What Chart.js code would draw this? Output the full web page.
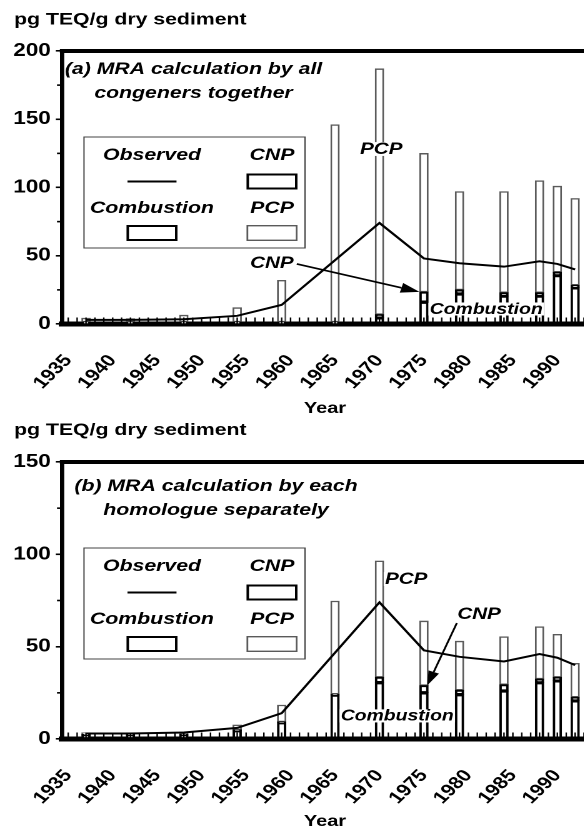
<!DOCTYPE html>
<html>
<head>
<meta charset="utf-8">
<script src="https://cdn.jsdelivr.net/npm/chart.js@4.4.1/dist/chart.umd.min.js"></script>
<style>
  html, body { margin: 0; padding: 0; background: #fff; overflow: hidden; width: 584px; height: 831px; }
  .stretch { position: absolute; left: 0; transform: scaleX(1.25); transform-origin: 0 0; }
  #wrapA { top: 0; }
  #wrapB { top: 415px; }
</style>
</head>
<body>
<div class="stretch" id="wrapA"><canvas id="chartA" width="490" height="415"></canvas></div>
<div class="stretch" id="wrapB"><canvas id="chartB" width="490" height="416"></canvas></div>
<script>
Chart.defaults.font.family = '"Liberation Sans", Arial, sans-serif';
Chart.defaults.color = '#000';

// sediment layers (year) and observed TEQ
const years = [1937, 1942, 1948, 1954, 1959, 1965, 1970, 1975, 1979, 1984, 1988, 1990, 1992];
const obsYears = [1937, 1942, 1948, 1954, 1959, 1970, 1975, 1979, 1984, 1988, 1990, 1992];
const observed = [3, 3, 3.5, 6, 14, 74, 48, 44.5, 42, 46, 44, 40];
const xTicks = [1935, 1940, 1945, 1950, 1955, 1960, 1965, 1970, 1975, 1980, 1985, 1990];

// (a) MRA by all congeners together
const combustionA = [1, 1, 1, 1, 1, 1, 4.5, 16, 22, 20.5, 20.5, 35.5, 26.5];
const cnpA = [0.5, 0.5, 0.5, 0.5, 0.5, 0.5, 2.5, 7.5, 3, 2.5, 2.5, 2.5, 2];
const pcpA = [2.8, 2.5, 5, 10.5, 30.5, 144.5, 180, 101.5, 72, 74, 82, 63, 63.5];
const yTicksA = [0, 50, 100, 150, 200];

// (b) MRA by each homologue separately
const combustionB = [2, 2, 2, 4.5, 8.8, 23.8, 30.5, 25, 24, 26, 30.5, 31.5, 20.7];
const cnpB = [0.5, 0.5, 0.5, 0.5, 0.5, 0.5, 3, 4, 2.5, 3.5, 2, 2, 2];
const pcpB = [0.9, 0.9, 1.3, 2.6, 9.1, 50.4, 62.9, 34.9, 26.5, 25.9, 28.3, 23.2, 18.3];
const yTicksB = [0, 50, 100, 150];

const legendItems = [['Observed', 0, 0], ['CNP', 1, 0], ['Combustion', 0, 1], ['PCP', 1, 1]];

const FONT = '"Liberation Sans", Arial, sans-serif';

function drawArrow(ctx, x1, y1, x2, y2, len, half) {
    const ang = Math.atan2(y2 - y1, x2 - x1);
    const bx = x2 - len * Math.cos(ang), by = y2 - len * Math.sin(ang);
    ctx.beginPath();
    ctx.moveTo(x1, y1);
    ctx.lineTo(bx, by);
    ctx.stroke();
    ctx.beginPath();
    ctx.moveTo(x2, y2);
    ctx.lineTo(bx + half * Math.sin(ang), by - half * Math.cos(ang));
    ctx.lineTo(bx - half * Math.sin(ang), by + half * Math.cos(ang));
    ctx.closePath();
    ctx.fill();
}

const decorations = {
    id: 'decorations',
    afterDraw(chart, args, p) {
        const {ctx, chartArea: a, scales: {x, y}} = chart;
        ctx.save();
        ctx.strokeStyle = '#000';
        ctx.fillStyle = '#000';

        // top frame line
        ctx.lineWidth = 4;
        ctx.beginPath();
        ctx.moveTo(a.left - 1.7, a.top);
        ctx.lineTo(a.right, a.top);
        ctx.stroke();

        // yearly minor ticks pointing into the plot
        ctx.lineWidth = 1.2;
        for (let yr = 1935; yr <= 1995; yr++) {
            const px = x.getPixelForValue(yr);
            ctx.beginPath();
            ctx.moveTo(px, a.bottom);
            ctx.lineTo(px, a.bottom - 6.5);
            ctx.stroke();
        }
        // minor ticks on y axis, between the labelled ones
        ctx.lineWidth = 1.6;
        for (let i = 0; i < p.yTicks.length - 1; i++) {
            const py = y.getPixelForValue((p.yTicks[i] + p.yTicks[i + 1]) / 2);
            ctx.beginPath();
            ctx.moveTo(a.left - 4, py);
            ctx.lineTo(a.left, py);
            ctx.stroke();
        }

        // axis titles
        ctx.font = 'bold 17px ' + FONT;
        ctx.textAlign = 'left';
        ctx.textBaseline = 'alphabetic';
        ctx.fillText('pg TEQ/g dry sediment', 11.2, p.axisTitleY);
        ctx.font = 'bold 16px ' + FONT;
        ctx.textAlign = 'center';
        ctx.fillText('Year', 260, p.yearY);

        // panel title
        ctx.font = 'italic bold 17px ' + FONT;
        p.titleLines.forEach((t, i) => ctx.fillText(t, p.titleX, p.titleY[i]));

        // legend
        const lx = 67.2, lw = 176.8, lh = 111, lt = p.legendTop;
        const cols = [121.6, 217.6];
        const textRows = [lt + 18.5, lt + 71.5];
        const symRows = [lt + 44.5, lt + 96];
        ctx.fillStyle = '#fff';
        ctx.fillRect(lx, lt, lw, lh);
        ctx.strokeStyle = '#444';
        ctx.lineWidth = 1;
        ctx.strokeRect(lx, lt, lw, lh);
        legendItems.forEach(([label, c, r]) => {
            const ds = chart.data.datasets.find(d => d.label === label);
            const cx = cols[c];
            ctx.fillStyle = '#000';
            ctx.font = 'italic bold 17px ' + FONT;
            ctx.textAlign = 'center';
            ctx.textBaseline = 'middle';
            ctx.fillText(label, cx, textRows[r]);
            if (ds.type === 'line') {
                ctx.strokeStyle = ds.borderColor;
                ctx.lineWidth = ds.borderWidth;
                ctx.beginPath();
                ctx.moveTo(cx - 19.6, symRows[r]);
                ctx.lineTo(cx + 19.6, symRows[r]);
                ctx.stroke();
            } else {
                const bw = ds.borderWidth;
                ctx.fillStyle = '#fff';
                ctx.fillRect(cx - 20.4, symRows[r] - 8, 40.8, 16);
                ctx.strokeStyle = ds.borderColor;
                ctx.lineWidth = bw;
                ctx.strokeRect(cx - 20.4 + bw / 2, symRows[r] - 8 + bw / 2, 40.8 - bw, 16 - bw);
            }
        });

        // annotations
        p.notes.forEach(n => {
            const px = x.getPixelForValue(n.x), py = y.getPixelForValue(n.y);
            ctx.font = 'italic bold ' + n.size + 'px ' + FONT;
            const w = ctx.measureText(n.label).width;
            ctx.fillStyle = '#fff';
            ctx.fillRect(px - w / 2 - 1, py - n.size * 0.42, w + 2, n.size * 0.84);
            ctx.fillStyle = '#000';
            ctx.textAlign = 'center';
            ctx.textBaseline = 'middle';
            ctx.fillText(n.label, px, py + 0.5);
        });
        ctx.strokeStyle = '#000';
        ctx.fillStyle = '#000';
        ctx.lineWidth = 1.6;
        const ar = p.arrow;
        drawArrow(ctx, x.getPixelForValue(ar.from[0]), y.getPixelForValue(ar.from[1]),
            x.getPixelForValue(ar.to[0]), y.getPixelForValue(ar.to[1]), ar.len, ar.half);

        ctx.restore();
    }
};

function points(values) {
    return years.map((yr, i) => ({x: yr, y: values[i]}));
}

function makePanel(canvasId, p) {
    const ctx = document.getElementById(canvasId);
    return new Chart(ctx, {
        type: 'bar',
        data: {
            datasets: [
                {
                    type: 'line',
                    label: 'Observed',
                    data: obsYears.map((yr, i) => ({x: yr, y: observed[i]})),
                    borderColor: '#000',
                    borderWidth: 2,
                    pointRadius: 0,
                    tension: 0,
                    stack: 'obs',
                    order: 0
                },
                {
                    label: 'Combustion',
                    data: points(p.combustion),
                    backgroundColor: '#fff',
                    borderColor: '#000',
                    borderWidth: 2,
                    borderSkipped: false,
                    barThickness: 6.8,
                    stack: 'src',
                    order: 1
                },
                {
                    label: 'CNP',
                    data: points(p.cnp),
                    backgroundColor: '#fff',
                    borderColor: '#000',
                    borderWidth: 2,
                    borderSkipped: false,
                    barThickness: 6.8,
                    stack: 'src',
                    order: 1
                },
                {
                    label: 'PCP',
                    data: points(p.pcp),
                    backgroundColor: '#fff',
                    borderColor: '#5a5a5a',
                    borderWidth: 1.4,
                    borderSkipped: false,
                    barThickness: 6.8,
                    stack: 'src',
                    order: 1
                }
            ]
        },
        options: {
            responsive: false,
            animation: false,
            devicePixelRatio: 2,
            layout: { padding: { top: p.top, right: 5, bottom: 0, left: 0 } },
            plugins: {
                legend: { display: false },
                tooltip: { enabled: false },
                decorations: p
            },
            scales: {
                x: {
                    type: 'linear',
                    min: 1934.3,
                    max: 1995.5,
                    offset: false,
                    stacked: true,
                    z: 1,
                    afterBuildTicks: s => { s.ticks = xTicks.map(v => ({value: v})); },
                    afterFit: s => { s.height = p.height - p.bottom; },
                    grid: { display: false },
                    border: { display: true, color: '#000', width: 5 },
                    ticks: {
                        autoSkip: false,
                        minRotation: 50,
                        maxRotation: 50,
                        padding: 19,
                        color: '#000',
                        font: { size: 17, weight: 'bold' },
                        callback: v => String(v)
                    }
                },
                y: {
                    min: 0,
                    max: p.yTicks[p.yTicks.length - 1],
                    stacked: true,
                    z: 1,
                    afterBuildTicks: s => { s.ticks = p.yTicks.map(v => ({value: v})); },
                    afterFit: s => { s.width = 49.6; },
                    grid: { drawOnChartArea: false, drawTicks: true, tickLength: 5, color: '#000', lineWidth: 1.6 },
                    border: { display: true, color: '#000', width: 3.4 },
                    ticks: {
                        padding: 4,
                        color: '#000',
                        font: { size: 18, weight: 'bold' },
                        callback: v => String(v)
                    }
                }
            }
        },
        plugins: [decorations]
    });
}

makePanel('chartA', {
    height: 415, top: 51, bottom: 324, yTicks: yTicksA,
    combustion: combustionA, cnp: cnpA, pcp: pcpA,
    titleLines: ['(a) MRA calculation by all', 'congeners together'],
    titleX: 154.8, titleY: [74, 98],
    axisTitleY: 24.5, yearY: 413, legendTop: 137,
    notes: [
        {label: 'PCP', x: 1970.2, y: 128.2, size: 16.5},
        {label: 'CNP', x: 1957.9, y: 44.7, size: 16.5},
        {label: 'Combustion', x: 1982.0, y: 11, size: 15.5}
    ],
    arrow: {from: [1960.7, 44], to: [1974.5, 23.5], len: 15, half: 5}
});

makePanel('chartB', {
    height: 416, top: 47, bottom: 324, yTicks: yTicksB,
    combustion: combustionB, cnp: cnpB, pcp: pcpB,
    titleLines: ['(b) MRA calculation by each', 'homologue separately'],
    titleX: 172.8, titleY: [76, 100],
    axisTitleY: 20, yearY: 411, legendTop: 133,
    notes: [
        {label: 'PCP', x: 1973.0, y: 86.6, size: 16.5},
        {label: 'CNP', x: 1981.2, y: 67.7, size: 16.5},
        {label: 'Combustion', x: 1972.0, y: 12.5, size: 15.5}
    ],
    arrow: {from: [1978.7, 62.8], to: [1975.4, 29.2], len: 14, half: 4.5}
});
</script>
</body>
</html>
